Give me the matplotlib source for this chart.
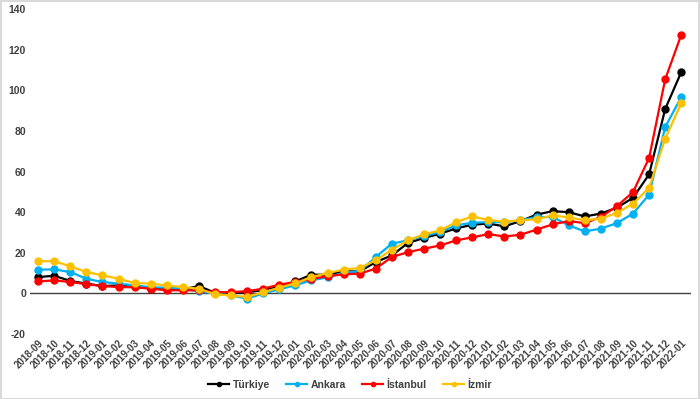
import matplotlib
matplotlib.use("Agg")
from matplotlib import pyplot as plt
import numpy as np

plt.rcParams['font.family'] = ['Liberation Sans', 'DejaVu Sans']
plt.rcParams['axes.unicode_minus'] = False

months = ['2018-09', '2018-10', '2018-11', '2018-12',
          '2019-01', '2019-02', '2019-03', '2019-04', '2019-05', '2019-06',
          '2019-07', '2019-08', '2019-09', '2019-10', '2019-11', '2019-12',
          '2020-01', '2020-02', '2020-03', '2020-04', '2020-05', '2020-06',
          '2020-07', '2020-08', '2020-09', '2020-10', '2020-11', '2020-12',
          '2021-01', '2021-02', '2021-03', '2021-04', '2021-05', '2021-06',
          '2021-07', '2021-08', '2021-09', '2021-10', '2021-11', '2021-12',
          '2022-01']

turkiye = [8.0, 8.7, 6.1, 4.8, 3.6, 3.9, 3.4, 2.3, 2.3, 2.0,
           3.6, 0.3, 0.0, 0.6, 1.6, 3.2, 5.9, 9.2, 9.2, 10.8,
           10.8, 15.4, 18.7, 24.8, 27.3, 29.4, 32.0, 33.8, 34.4, 33.0,
           35.6, 38.8, 40.5, 40.0, 37.9, 39.3, 42.2, 47.1, 58.6, 90.8,
           109.0]
ankara = [11.7, 11.8, 10.5, 7.2, 5.6, 4.8, 3.9, 3.0, 2.8, 2.3,
          1.0, 0.0, -1.0, -2.6, 0.0, 2.0, 4.0, 6.4, 7.9, 10.2,
          10.8, 17.9, 24.5, 26.1, 28.2, 30.2, 33.5, 34.8, 35.1, 35.1,
          36.0, 37.6, 37.6, 33.5, 30.5, 31.9, 34.6, 39.3, 48.6, 81.9,
          96.7]
istanbul = [5.9, 6.4, 5.6, 4.5, 3.6, 3.1, 3.0, 2.3, 1.5, 1.5,
            1.5, 0.6, 0.6, 1.1, 2.3, 4.3, 5.6, 7.2, 8.4, 9.4,
            9.7, 12.2, 17.9, 20.3, 22.0, 23.6, 26.1, 27.6, 29.2, 28.0,
            28.9, 31.4, 34.0, 35.6, 34.6, 37.6, 43.0, 49.9, 66.7, 105.4,
            127.4]
izmir = [15.8, 15.9, 13.3, 10.5, 8.9, 7.2, 5.1, 4.8, 3.9, 3.1,
         2.3, -0.5, -1.0, -1.8, 0.6, 2.8, 5.0, 8.0, 10.0, 11.7,
         12.5, 16.3, 21.5, 26.1, 29.1, 31.0, 35.1, 37.9, 36.1, 35.4,
         36.0, 36.5, 38.4, 37.4, 36.0, 36.8, 39.7, 44.2, 52.0, 76.2,
         93.7]

series = [('Türkiye', turkiye, '#000000'),
          ('Ankara', ankara, '#00b0f0'),
          ('İstanbul', istanbul, '#ff0000'),
          ('İzmir', izmir, '#ffc000')]

fig = plt.figure(figsize=(7, 3.99), dpi=100)
ax = fig.add_axes([0.043, 0.163, 0.944, 0.814])

x = np.arange(len(months))
for name, vals, col in series:
    ax.plot(x, vals, color=col, lw=1.6, marker='o', ms=5, label=name)

ax.axhline(0, color='#404040', lw=1, zorder=0)
ax.set_xlim(-0.5, 40.6)
ax.set_ylim(-20, 140)
ax.set_yticks(range(-20, 141, 20))
ax.set_xticks(x)
ax.set_xticklabels(months, rotation=45, ha='right', rotation_mode='anchor',
                   fontsize=7, fontweight='bold', color='#404040')
for lbl in ax.get_yticklabels():
    lbl.set_fontsize(7.5)
    lbl.set_fontweight('bold')
    lbl.set_color('#404040')
ax.tick_params(length=0, pad=3)
for s in ax.spines.values():
    s.set_visible(False)

leg = fig.legend(loc='lower center', bbox_to_anchor=(0.5, 0.0), ncol=4,
                 frameon=False, fontsize=7.5, handlelength=2.0,
                 handletextpad=0.3, columnspacing=1.6, markerscale=0.6)
for t in leg.get_texts():
    t.set_fontweight('bold')
    t.set_color('#404040')

fig.patches.append(plt.Rectangle((0.001, 0.001), 0.997, 0.997,
                                 transform=fig.transFigure, fill=False,
                                 edgecolor='#d9d9d9', lw=1.5))
fig.savefig('out.png', dpi=100)
